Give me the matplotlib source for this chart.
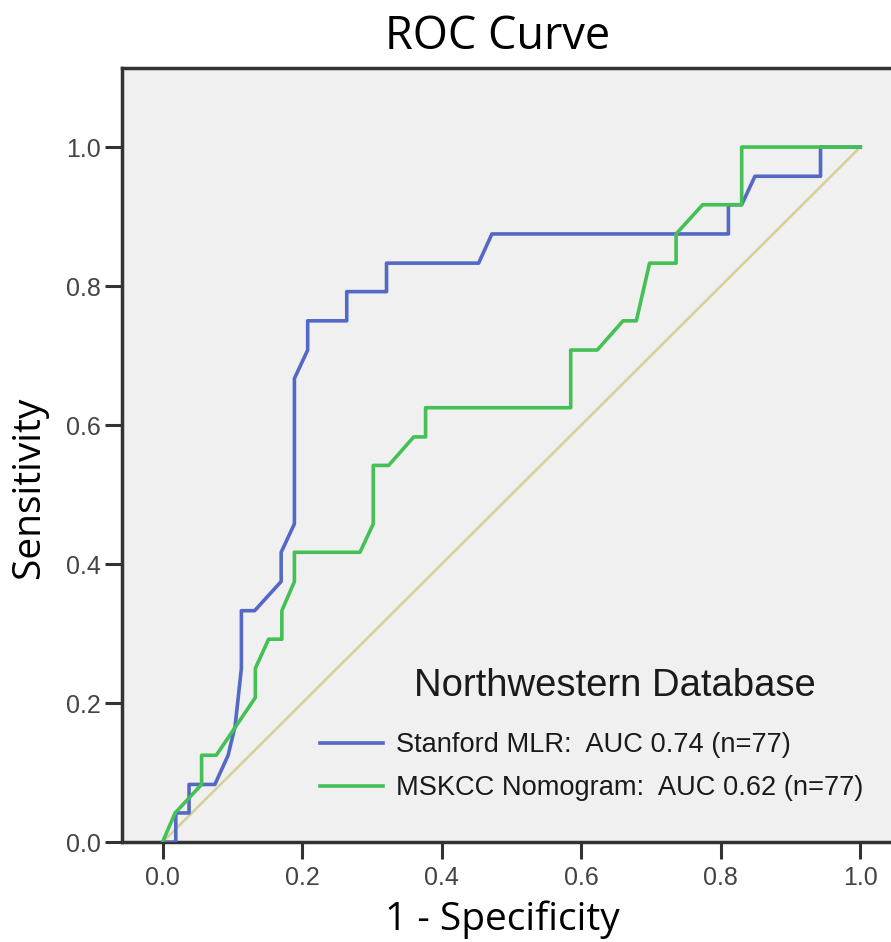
import matplotlib
matplotlib.use("Agg")
import matplotlib.pyplot as plt

# ROC points (1 - specificity, sensitivity)
stanford_fpr = [0.0, 0.019, 0.019, 0.038, 0.038, 0.075, 0.094, 0.104, 0.113, 0.113,
                0.132, 0.170, 0.170, 0.189, 0.189, 0.208, 0.208, 0.264, 0.264, 0.321,
                0.321, 0.453, 0.472, 0.811, 0.811, 0.830, 0.849, 0.943, 0.943, 1.0]
stanford_tpr = [0.0, 0.0, 0.042, 0.042, 0.083, 0.083, 0.125, 0.167, 0.25, 0.333,
                0.333, 0.375, 0.417, 0.458, 0.667, 0.708, 0.75, 0.75, 0.792, 0.792,
                0.833, 0.833, 0.875, 0.875, 0.917, 0.917, 0.958, 0.958, 1.0, 1.0]

mskcc_fpr = [0.0, 0.018, 0.056, 0.056, 0.077, 0.133, 0.133, 0.152, 0.171, 0.171,
             0.189, 0.189, 0.283, 0.302, 0.302, 0.324, 0.360, 0.377, 0.377, 0.585,
             0.585, 0.623, 0.660, 0.679, 0.698, 0.736, 0.736, 0.774, 0.830, 0.830, 1.0]
mskcc_tpr = [0.0, 0.042, 0.083, 0.125, 0.125, 0.208, 0.25, 0.292, 0.292, 0.333,
             0.375, 0.417, 0.417, 0.458, 0.542, 0.542, 0.583, 0.583, 0.625, 0.625,
             0.708, 0.708, 0.75, 0.75, 0.833, 0.833, 0.875, 0.917, 0.917, 1.0, 1.0]

ref_line = [0.0, 1.0]
ticks = [0.0, 0.2, 0.4, 0.6, 0.8, 1.0]

fig = plt.figure(figsize=(8.91, 9.42), dpi=100)
ax = fig.add_axes([0.137, 0.106, 0.863, 0.822])
ax.set_facecolor('#f0f0f0')

ax.plot(ref_line, ref_line, color='#d6d199', lw=1.9, zorder=2)
ax.plot(stanford_fpr, stanford_tpr, color='#5468c6', lw=2.6, zorder=3,
        label='Stanford MLR:  AUC 0.74 (n=77)')
ax.plot(mskcc_fpr, mskcc_tpr, color='#45c055', lw=2.6, zorder=3,
        label='MSKCC Nomogram:  AUC 0.62 (n=77)')

ax.set_xlim(-0.058, 1.044)
ax.set_ylim(0, 1.114)
ax.set_xticks(ticks)
ax.set_yticks(ticks)
ax.set_xticklabels(['%.1f' % t for t in ticks])
ax.set_yticklabels(['%.1f' % t for t in ticks])
ax.tick_params(direction='out', length=12, width=2.2, color='#333333',
               labelsize=18, labelcolor='#444444')
ax.tick_params(axis='x', pad=5)
ax.tick_params(axis='y', pad=3)
for lab in ax.get_xticklabels() + ax.get_yticklabels():
    lab.set_family('Liberation Sans')

for s in ['left', 'bottom', 'top']:
    ax.spines[s].set_color('#333333')
    ax.spines[s].set_linewidth(2.5)
ax.spines['right'].set_visible(False)

fig.text(0.5634, 0.0125, '1 - Specificity', ha='center', va='baseline',
         fontsize=28, family='Open Sans')
fig.text(0.032, 0.483, 'Sensitivity', ha='center', va='center', rotation=90,
         fontsize=28, family='Open Sans')
fig.text(0.558, 0.961, 'ROC Curve', ha='center', va='center',
         fontsize=32.5, family='Open Sans')

ax.text(0.641, 0.2016, 'Northwestern Database', transform=ax.transAxes,
        ha='center', va='center', fontsize=27.5, family='Liberation Sans',
        color='#1a1a1a')
leg = ax.legend(loc='upper left', bbox_to_anchor=(0.2575, 0.142), frameon=False,
                borderpad=0, borderaxespad=0,
                prop={'family': 'Liberation Sans', 'size': 19.6},
                handlelength=2.3, handletextpad=0.5, labelspacing=0.62)
for t in leg.get_texts():
    t.set_color('#1a1a1a')

fig.savefig('out.png', dpi=100)
